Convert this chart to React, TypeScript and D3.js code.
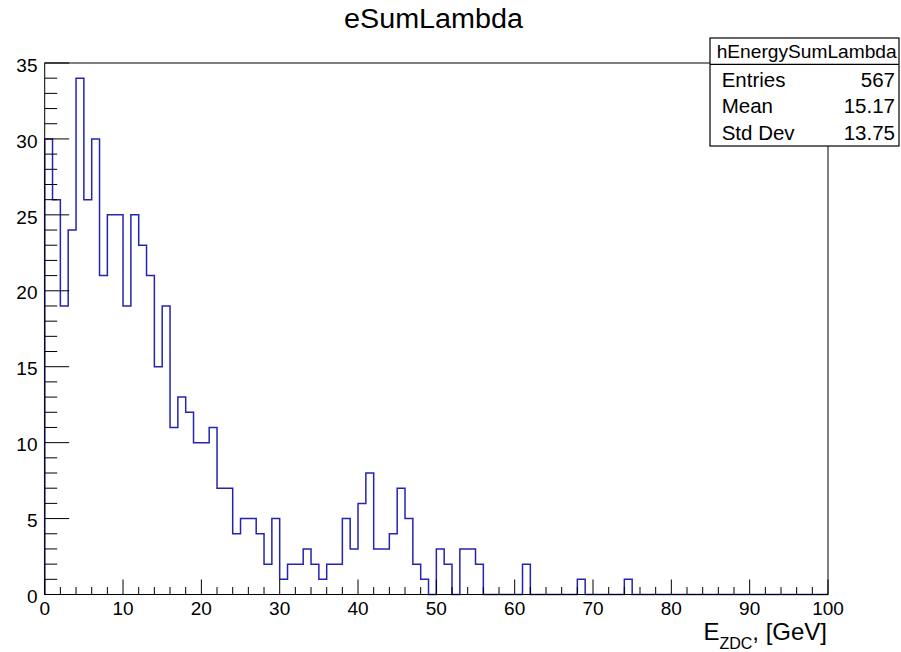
import React from "react";
import * as d3 from "d3";

// Bin contents of hEnergySumLambda: 100 bins of 1 GeV from 0 to 100
const binCounts: number[] = [
  30, 26, 19, 24, 34, 26, 30, 21, 25, 25,
  19, 25, 23, 21, 15, 19, 11, 13, 12, 10,
  10, 11, 7, 7, 4, 5, 5, 4, 2, 5,
  1, 2, 2, 3, 2, 1, 2, 2, 5, 3,
  6, 8, 3, 3, 4, 7, 5, 2, 1, 0,
  3, 2, 0, 3, 3, 2, 0, 0, 0, 0,
  0, 2, 0, 0, 0, 0, 0, 0, 1, 0,
  0, 0, 0, 0, 1, 0, 0, 0, 0, 0,
  0, 0, 0, 0, 0, 0, 0, 0, 0, 0,
  0, 0, 0, 0, 0, 0, 0, 0, 0, 0,
];
const xRange: [number, number] = [0, 100];
const yRange: [number, number] = [0, 35];
const xMajorTicks: number[] = [0, 10, 20, 30, 40, 50, 60, 70, 80, 90, 100];
const yMajorTicks: number[] = [0, 5, 10, 15, 20, 25, 30, 35];
const statLabels: string[] = ["Entries", "Mean", "Std Dev"];
const statValues: string[] = ["567", "15.17", "13.75"];
const histName = "hEnergySumLambda";
const chartTitle = "eSumLambda";

const FONT = "'Liberation Sans', Arial, Helvetica, sans-serif";

export default function App() {
  const W = 901;
  const H = 652;
  const left = 44.7;
  const right = 828;
  const top = 63;
  const bottom = 594.5;

  const x = d3.scaleLinear().domain(xRange).range([left, right]);
  const y = d3.scaleLinear().domain(yRange).range([bottom, top]);

  const binWidth = (xRange[1] - xRange[0]) / binCounts.length;
  const pts: [number, number][] = [[xRange[0], 0]];
  binCounts.forEach((c, i) => {
    pts.push([xRange[0] + i * binWidth, c]);
    pts.push([xRange[0] + (i + 1) * binWidth, c]);
  });
  pts.push([xRange[1], 0]);
  const line = d3
    .line<[number, number]>()
    .x((d) => x(d[0]))
    .y((d) => y(d[1]));

  const xMinor = d3.range(xRange[0], xRange[1] + 0.001, 2);
  const yMinor = d3.range(yRange[0], yRange[1] + 0.001, 1);

  const boxL = 710;
  const boxR = 899;
  const boxT = 38;
  const boxB = 146;
  const boxDiv = 64.3;
  const rowBase = [86.7, 113.3, 140];

  return (
    <svg
      width={W}
      height={H}
      style={{ position: "absolute", left: 0, top: 0, background: "#fff" }}
      fontFamily={FONT}
    >
      <rect x={0} y={0} width={W} height={H} fill="#fff" />

      {/* histogram outline */}
      <path d={line(pts) || ""} fill="none" stroke="#2424b0" strokeWidth={1.5} />

      {/* frame */}
      <rect
        x={left}
        y={top}
        width={right - left}
        height={bottom - top}
        fill="none"
        stroke="#000"
        strokeWidth={1}
      />

      {/* x axis ticks */}
      {xMinor.map((v) => {
        const major = v % 10 === 0;
        return (
          <line
            key={"xt" + v}
            x1={x(v)}
            x2={x(v)}
            y1={bottom}
            y2={bottom - (major ? 15 : 7.5)}
            stroke="#000"
            strokeWidth={1}
          />
        );
      })}
      {xMajorTicks.map((v) => (
        <text
          key={"xl" + v}
          x={x(v)}
          y={615}
          textAnchor="middle"
          fontSize={19}
          fill="#000"
        >
          {v}
        </text>
      ))}

      {/* y axis ticks */}
      {yMinor.map((v) => {
        const major = v % 5 === 0;
        return (
          <line
            key={"yt" + v}
            x1={left}
            x2={left + (major ? 24.5 : 12.5)}
            y1={y(v)}
            y2={y(v)}
            stroke="#000"
            strokeWidth={1}
          />
        );
      })}
      {yMajorTicks.map((v) => (
        <text
          key={"yl" + v}
          x={37.5}
          y={y(v) + 8.7}
          textAnchor="end"
          fontSize={19}
          fill="#000"
        >
          {v}
        </text>
      ))}

      {/* axis title */}
      <text x={827} y={640} textAnchor="end" fontSize={24} fill="#000">
        E
        <tspan fontSize={16} dy={9}>
          ZDC
        </tspan>
        <tspan dy={-9}>, [GeV]</tspan>
      </text>

      {/* title */}
      <text
        x={344}
        y={28}
        fontSize={27}
        fill="#000"
        textLength={179}
        lengthAdjust="spacingAndGlyphs"
      >
        {chartTitle}
      </text>

      {/* statistics box */}
      <rect
        x={boxL}
        y={boxT}
        width={boxR - boxL}
        height={boxB - boxT}
        fill="#fff"
        stroke="#000"
        strokeWidth={1.2}
      />
      <line x1={boxL} x2={boxR} y1={boxDiv} y2={boxDiv} stroke="#000" strokeWidth={1.2} />
      <text
        x={716.7}
        y={58.3}
        fontSize={18.5}
        fill="#000"
        textLength={180}
        lengthAdjust="spacingAndGlyphs"
      >
        {histName}
      </text>
      {statLabels.map((lab, i) => (
        <text key={"sl" + i} x={721.7} y={rowBase[i]} fontSize={20.5} fill="#000">
          {lab}
        </text>
      ))}
      {statValues.map((val, i) => (
        <text
          key={"sv" + i}
          x={895}
          y={rowBase[i]}
          textAnchor="end"
          fontSize={20.5}
          fill="#000"
        >
          {val}
        </text>
      ))}
    </svg>
  );
}
